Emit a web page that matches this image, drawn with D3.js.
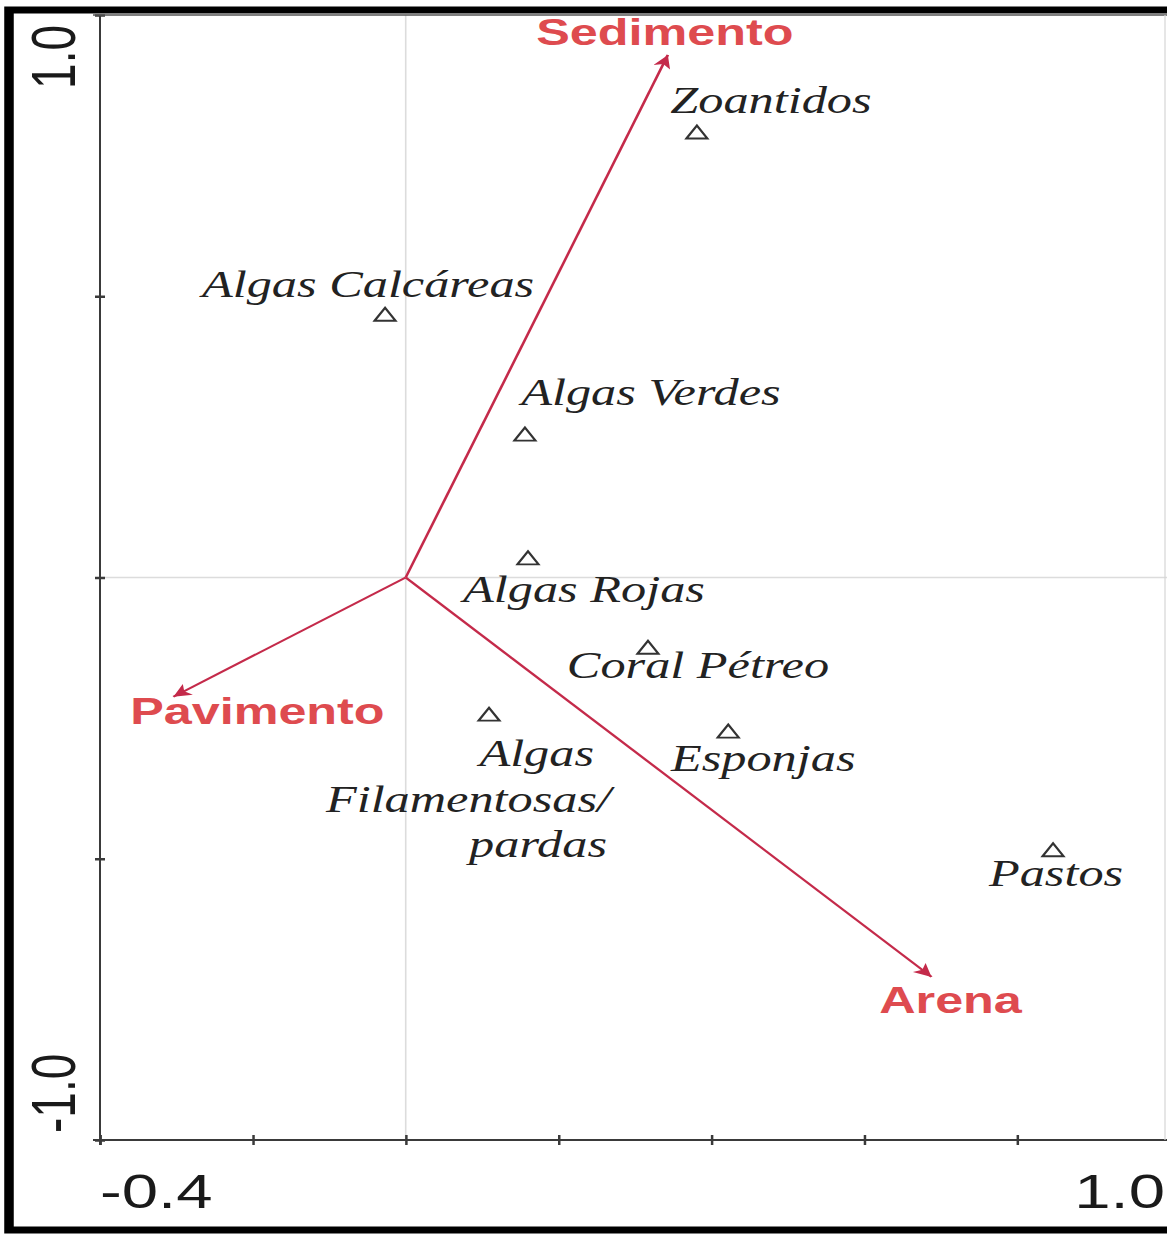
<!DOCTYPE html>
<html>
<head>
<meta charset="utf-8">
<script src="https://cdn.jsdelivr.net/npm/d3@7"></script>
<style>
  html, body { margin: 0; padding: 0; background: #fff; }
  svg { display: block; }
</style>
</head>
<body>
<div id="chart"></div>
<script>
// Données (axe 1 / axe 2)
const species = ["Zoantidos", "Algas Calcáreas", "Algas Verdes", "Algas Rojas",
                 "Coral Pétreo", "Algas\nFilamentosas/\npardas", "Esponjas", "Pastos"];
const speciesAxis1 = [0.381, -0.027, 0.156, 0.160, 0.317, 0.109, 0.422, 0.847];
const speciesAxis2 = [0.792, 0.468, 0.255, 0.035, -0.124, -0.243, -0.273, -0.484];

const envVars = ["Sedimento", "Pavimento", "Arena"];
const envAxis1 = [0.343, -0.304, 0.688];
const envAxis2 = [0.929, -0.212, -0.710];

const xTicks = [-0.4, -0.2, 0, 0.2, 0.4, 0.6, 0.8, 1.0];
const yTicks = [-1.0, -0.5, 0, 0.5, 1.0];
const xTickLabels = ["-0.4", "1.0"];
const yTickLabels = ["-1.0", "1.0"];

// L'image d'origine est étirée horizontalement : on dessine dans un repère plus étroit
const SX = 1.36;
const W = 1167, H = 1235;
const VW = W / SX;

// décalages des étiquettes (en pixels réels)
const speciesLabelPos = [
  { anchor: "middle", lines: [[74, -19]] },
  { anchor: "middle", lines: [[-17, -17]] },
  { anchor: "middle", lines: [[126, -29]] },
  { anchor: "middle", lines: [[56, 44]] },
  { anchor: "middle", lines: [[50, 31]] },
  { anchor: "end",    lines: [[105, 52], [122, 98], [118, 143]] },
  { anchor: "middle", lines: [[35, 40]] },
  { anchor: "middle", lines: [[3, 36]] }
];
const envLabelPos = [[-3, -10], [84, 27], [19, 36]];

const svg = d3.select("#chart")
  .append("svg")
    .attr("width", W)
    .attr("height", H)
    .attr("viewBox", "0 0 " + VW + " " + H)
    .attr("preserveAspectRatio", "none");

const x = d3.scaleLinear().domain([-0.4, 1.0]).range([100 / SX, 1170 / SX]);
const y = d3.scaleLinear().domain([-1.0, 1.0]).range([1140, 15]);

svg.append("rect").attr("width", VW).attr("height", H).attr("fill", "#fff");

// Grille (x = 0 et y = 0)
svg.append("line")
  .attr("x1", x(0)).attr("x2", x(0)).attr("y1", y(1)).attr("y2", y(-1))
  .attr("stroke", "#dcdcdc").attr("stroke-width", 1.2);
svg.append("line")
  .attr("x1", x(-0.4)).attr("x2", x(1.0)).attr("y1", y(0)).attr("y2", y(0))
  .attr("stroke", "#dcdcdc").attr("stroke-width", 1.5);

// Axes
const axisColor = "#3a3a3a";
const gLeft = svg.append("g").attr("transform", "translate(" + x(-0.4) + ",0)")
  .call(d3.axisLeft(y).tickValues(yTicks).tickFormat("").tickSizeOuter(0));
gLeft.selectAll(".tick line").attr("x1", -5 / SX).attr("x2", 5 / SX)
  .attr("stroke", axisColor).attr("stroke-width", 2.5);
gLeft.select(".domain").remove();

const gBottom = svg.append("g").attr("transform", "translate(0," + y(-1) + ")")
  .call(d3.axisBottom(x).tickValues(xTicks).tickFormat("").tickSizeOuter(0));
gBottom.selectAll(".tick line").attr("y1", -5).attr("y2", 5)
  .attr("stroke", axisColor).attr("stroke-width", 2.5 / SX);
gBottom.select(".domain").remove();

svg.append("line")
  .attr("x1", x(-0.4)).attr("x2", x(-0.4)).attr("y1", y(1)).attr("y2", y(-1) + 5)
  .attr("stroke", axisColor).attr("stroke-width", 2 / SX);
svg.append("line")
  .attr("x1", 93 / SX).attr("x2", VW).attr("y1", y(-1)).attr("y2", y(-1))
  .attr("stroke", axisColor).attr("stroke-width", 2.2);
svg.append("line")
  .attr("x1", 93 / SX).attr("x2", VW).attr("y1", y(1)).attr("y2", y(1))
  .attr("stroke", "#555").attr("stroke-width", 1.6);
svg.append("line")
  .attr("x1", 1165 / SX).attr("x2", 1165 / SX).attr("y1", y(1)).attr("y2", y(-1))
  .attr("stroke", "#d5d5d5").attr("stroke-width", 1.2 / SX);

// Étiquettes des axes (seulement les extrémités)
svg.append("text")
  .attr("x", x(-0.4)).attr("y", 1208)
  .attr("text-anchor", "start")
  .attr("font-family", "Liberation Sans, Arial, sans-serif")
  .attr("font-size", 48).attr("fill", "#1a1a1a")
  .text(xTickLabels[0]);
svg.append("text")
  .attr("x", 1165 / SX).attr("y", 1208)
  .attr("text-anchor", "end")
  .attr("font-family", "Liberation Sans, Arial, sans-serif")
  .attr("font-size", 48).attr("fill", "#1a1a1a")
  .text(xTickLabels[1]);
svg.append("text")
  .attr("transform", "translate(" + (75 / SX) + "," + (y(1) + 10) + ") rotate(-90)")
  .attr("text-anchor", "end")
  .attr("font-family", "Liberation Sans, Arial, sans-serif")
  .attr("font-size", 46).attr("fill", "#1a1a1a")
  .text(yTickLabels[1]);
svg.append("text")
  .attr("transform", "translate(" + (75 / SX) + "," + (y(-1) - 7) + ") rotate(-90)")
  .attr("text-anchor", "start")
  .attr("font-family", "Liberation Sans, Arial, sans-serif")
  .attr("font-size", 46).attr("fill", "#1a1a1a")
  .text(yTickLabels[0]);

// Flèches des variables environnementales
const arrowColor = "#c42a4a";
svg.append("defs").append("marker")
  .attr("id", "pointe")
  .attr("viewBox", "0 0 10 10")
  .attr("refX", 10).attr("refY", 5)
  .attr("markerUnits", "userSpaceOnUse")
  .attr("markerWidth", 20).attr("markerHeight", 13)
  .attr("orient", "auto")
  .append("path")
    .attr("d", "M0,0 L10,5 L0,10 L2.5,5 z")
    .attr("fill", arrowColor);

const env = svg.append("g").attr("id", "env");
envVars.forEach((nom, i) => {
  env.append("line")
    .attr("x1", x(0)).attr("y1", y(0))
    .attr("x2", x(envAxis1[i])).attr("y2", y(envAxis2[i]))
    .attr("stroke", arrowColor).attr("stroke-width", 2)
    .attr("marker-end", "url(#pointe)");
  env.append("text")
    .attr("x", x(envAxis1[i]) + envLabelPos[i][0] / SX)
    .attr("y", y(envAxis2[i]) + envLabelPos[i][1])
    .attr("text-anchor", "middle")
    .attr("font-family", "Liberation Sans, Arial, sans-serif")
    .attr("font-weight", "bold")
    .attr("font-size", 37)
    .attr("fill", "#de4b4f")
    .text(nom);
});

// Espèces : triangles + étiquettes
const pts = svg.append("g").attr("id", "especes");
const tw = 21 / SX / 2, th = 13;
species.forEach((nom, i) => {
  const cx = x(speciesAxis1[i]), cy = y(speciesAxis2[i]);
  pts.append("path")
    .attr("d", "M" + (cx - tw) + "," + (cy + th / 2) + " L" + cx + "," + (cy - th / 2) +
               " L" + (cx + tw) + "," + (cy + th / 2) + " Z")
    .attr("fill", "none").attr("stroke", "#333").attr("stroke-width", 1.8);

  const pos = speciesLabelPos[i];
  nom.split("\n").forEach((ligne, k) => {
    pts.append("text")
      .attr("x", cx + pos.lines[k][0] / SX)
      .attr("y", cy + pos.lines[k][1])
      .attr("text-anchor", pos.anchor)
      .attr("font-family", "Liberation Serif, Times New Roman, serif")
      .attr("font-style", "italic")
      .attr("font-size", 37)
      .attr("fill", "#222")
      .text(ligne);
  });
});

// Cadre noir épais autour de l'image
svg.append("rect")
  .attr("x", 9 / SX).attr("y", 10)
  .attr("width", VW + 20).attr("height", 1230 - 10)
  .attr("fill", "none").attr("stroke", "#000").attr("stroke-width", 7);
</script>
</body>
</html>
